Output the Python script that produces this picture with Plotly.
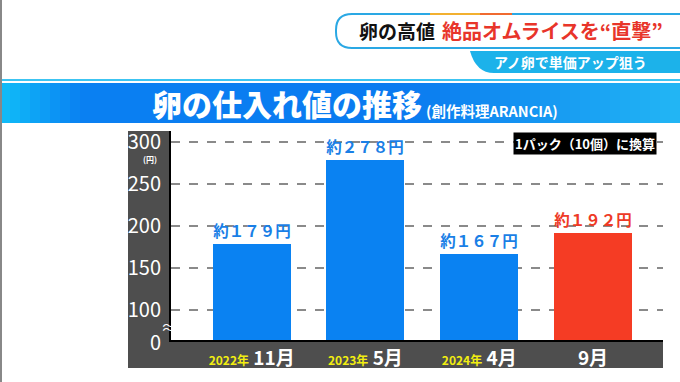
import plotly.graph_objects as go

# ---------------- data ----------------
years = ["2022年", "2023年", "2024年", ""]
months = ["11月", "5月", "4月", "9月"]
prices = [179, 278, 167, 192]
value_labels = ["約１７９円", "約２７８円", "約１６７円", "約１９２円"]
bar_colors = ["#0a82f2", "#0a82f2", "#0a82f2", "#f53c24"]
label_colors = ["#1a7fe6", "#1a7fe6", "#1a7fe6", "#ee3a26"]
y_ticks = [100, 150, 200, 250, 300]

FONT = "Noto Sans CJK JP"
W, H = 680, 382
L, R, T, B = 171, 663, 131, 340  # plot area in px


def px(x):
    return (x - L) / (R - L)


def py(y):
    return (B - y) / (B - T)


xpos = list(range(len(prices)))
ticktext = [
    (f"<span style='color:#f2ee10;font-size:12px'>{y}</span> " if y else "") + m
    for y, m in zip(years, months)
]

fig = go.Figure()
fig.add_trace(go.Bar(
    x=xpos, y=prices, width=0.685,
    marker=dict(color=bar_colors, line=dict(width=0)),
    text=value_labels, textposition="outside", constraintext="none",
    textfont=dict(family=FONT, size=15.5, color=label_colors, weight="bold"),
    cliponaxis=False, hoverinfo="skip",
))

shapes = []
# banner gradient strips
def lerp(c1, c2, t):
    return tuple(round(a + (b - a) * t) for a, b in zip(c1, c2))

stops = [(0.0, (16, 190, 248)), (0.12, (10, 128, 242)), (0.6, (10, 122, 240)), (1.0, (34, 182, 244))]
n = 68
for i in range(n):
    t = (i + 0.5) / n
    for j in range(len(stops) - 1):
        if stops[j][0] <= t <= stops[j + 1][0]:
            tt = (t - stops[j][0]) / (stops[j + 1][0] - stops[j][0])
            c = lerp(stops[j][1], stops[j + 1][1], tt)
            break
    x0 = i * W / n
    x1 = (i + 1) * W / n + 0.6
    shapes.append(dict(type="rect", xref="paper", yref="paper", x0=px(x0), x1=px(x1),
                       y0=py(123), y1=py(83), fillcolor=f"rgb{c}", line=dict(width=0), layer="below"))
# thin cyan line above banner
shapes.append(dict(type="rect", xref="paper", yref="paper", x0=px(0), x1=px(W), y0=py(81), y1=py(79),
                   fillcolor="#3cc4f2", line=dict(width=0), layer="below"))
# left frame line
shapes.append(dict(type="rect", xref="paper", yref="paper", x0=px(0), x1=px(2), y0=py(H), y1=py(0),
                   fillcolor="#888888", line=dict(width=0), layer="below"))
# dark panel
shapes.append(dict(type="rect", xref="paper", yref="paper", x0=px(128), x1=px(R), y0=py(368), y1=py(T),
                   fillcolor="#4e4e4e", line=dict(width=0), layer="below"))
# white plot area
shapes.append(dict(type="rect", xref="paper", yref="paper", x0=0, x1=1, y0=0, y1=1,
                   fillcolor="#ffffff", line=dict(width=0), layer="below"))

# header box (rounded left)
def path_box(x0, y0, x1, y1, r):
    return (f"M {px(x1)} {py(y0)} L {px(x0 + r)} {py(y0)} "
            f"Q {px(x0)} {py(y0)} {px(x0)} {py(y0 + r)} L {px(x0)} {py(y1 - r)} "
            f"Q {px(x0)} {py(y1)} {px(x0 + r)} {py(y1)} L {px(x1)} {py(y1)}")

shapes.append(dict(type="path", xref="paper", yref="paper", path=path_box(336, 14, 684, 48, 16),
                   fillcolor="#ffffff", line=dict(color="#2aa8e4", width=2), layer="above"))
shapes.append(dict(type="line", xref="paper", yref="paper", x0=px(430), x1=px(480), y0=py(14), y1=py(14),
                   line=dict(color="#f2b030", width=2)))
shapes.append(dict(type="line", xref="paper", yref="paper", x0=px(480), x1=px(512), y0=py(14), y1=py(14),
                   line=dict(color="#ef6a30", width=2)))
# sub caption box
shapes.append(dict(type="path", xref="paper", yref="paper",
                   path=(f"M {px(684)} {py(51)} L {px(470)} {py(51)} "
                         f"Q {px(476)} {py(73)} {px(494)} {py(73)} L {px(684)} {py(73)} Z"),
                   fillcolor="#1cb2ea", line=dict(width=0), layer="above"))

ann = []
def A(text, x, y, size, color="#ffffff", xanchor="center", yanchor="middle", weight="bold", **kw):
    ann.append(dict(text=text, x=px(x), y=py(y), xref="paper", yref="paper", showarrow=False,
                    xanchor=xanchor, yanchor=yanchor,
                    font=dict(family=FONT, size=size, color=color, weight=weight), **kw))

A("卵の高値", 357, 31, 19, "#111111", xanchor="left")
A("絶品オムライスを“直撃”", 440, 31, 20, "#e8352a", xanchor="left")
A("アノ卵で単価アップ狙う", 570, 62, 14, "#ffffff")
A("卵の仕入れ値の推移", 150, 103, 30, "#ffffff", xanchor="left", weight=900)
A("(創作料理ARANCIA)", 424, 111, 14.5, "#ffffff", xanchor="left")
A("1パック（10個）に換算", 585, 143, 13, "#ffffff", bgcolor="#000000", borderpad=1)
A("(円)", 150, 159, 8, "#ffffff")
A("0", 163, 341, 20, "#ffffff", xanchor="right", weight="normal")
A("≈", 168, 326, 15, "#ffffff", weight="normal")

fig.update_layout(
    width=W, height=H,
    margin=dict(l=L, r=W - R, t=T, b=H - B, pad=0),
    paper_bgcolor="#ffffff", plot_bgcolor="rgba(0,0,0,0)",
    showlegend=False, bargap=0,
    shapes=shapes, annotations=ann,
    xaxis=dict(range=[-0.709, 3.615], tickvals=xpos, ticktext=ticktext,
               tickfont=dict(family=FONT, size=19, color="#ffffff", weight="bold"),
               showgrid=False, zeroline=False, showline=True, linecolor="#000000", linewidth=2,
               ticks="", ticklabelstandoff=0, fixedrange=True),
    yaxis=dict(range=[64.8, 312.7], tickvals=y_ticks, ticktext=[str(v) for v in y_ticks],
               tickfont=dict(family=FONT, size=20, color="#ffffff"),
               showgrid=True, gridcolor="#8a8a8a", gridwidth=1.5, griddash="dash",
               zeroline=False, showline=True, linecolor="#000000", linewidth=2,
               ticks="", ticklabelstandoff=4, fixedrange=True),
)

fig.write_html("out.html", config={"displayModeBar": False},
               post_script="document.body.style.margin='0';")
